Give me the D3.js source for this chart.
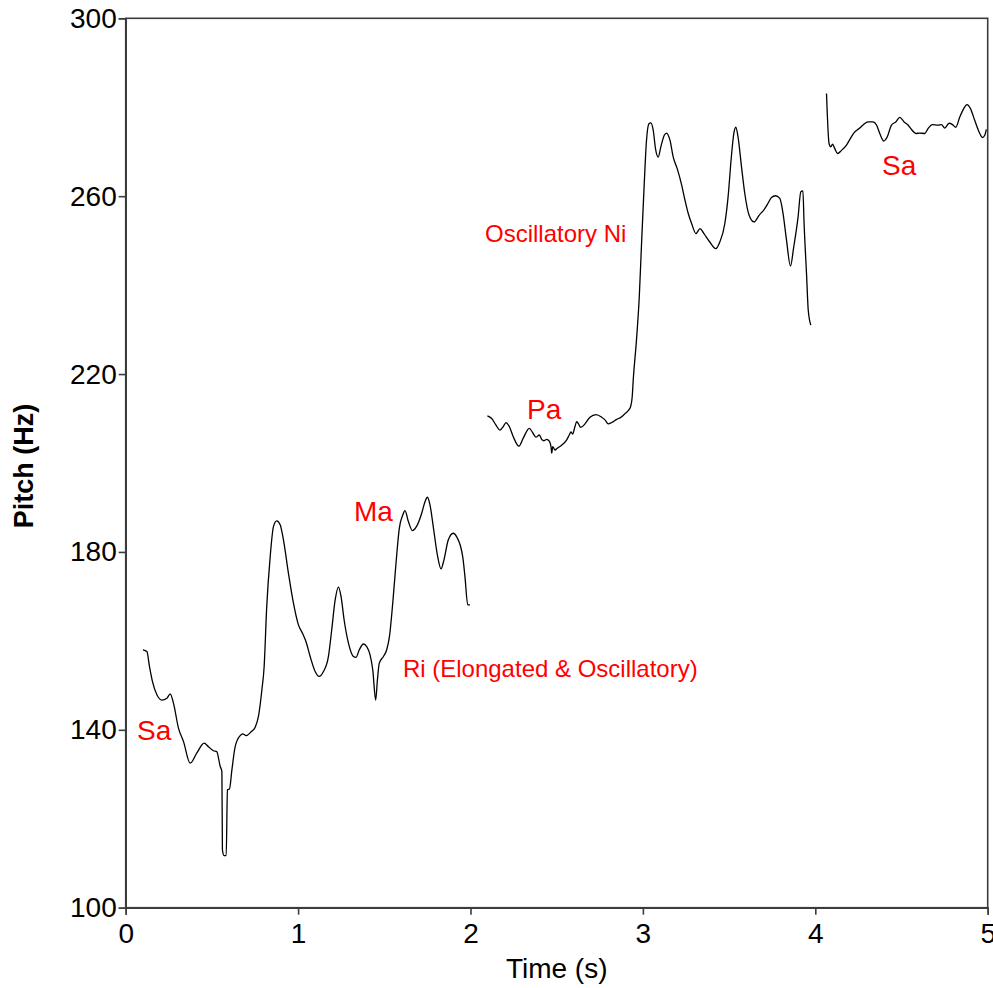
<!DOCTYPE html>
<html>
<head>
<meta charset="utf-8">
<script src="https://cdn.jsdelivr.net/npm/d3@7"></script>
<style>
  html, body { margin: 0; padding: 0; background: #fff; }
  svg { display: block; }
  text { font-family: "Liberation Sans", Arial, Helvetica, sans-serif; }
</style>
</head>
<body>
<svg id="chart" width="993" height="988"></svg>
<script>
// Pitch contour, one array of [time (s), pitch (Hz)] per voiced stretch
const segSaRiMa = [
  [0.100,158.0],[0.123,157.6],[0.138,154.2],[0.155,150.9],[0.181,147.9],[0.210,146.7],
  [0.239,147.1],[0.258,148.1],[0.277,146.0],[0.306,140.4],[0.335,137.4],[0.374,132.5],
  [0.413,134.8],[0.455,137.0],[0.480,136.2],[0.509,135.3],[0.528,135.1],[0.548,131.8],
  [0.558,130.6],[0.561,113.0],[0.571,111.7],[0.583,111.7],[0.590,126.5],[0.602,126.7],
  [0.616,131.0],[0.635,136.2],[0.664,138.7],[0.679,139.1],[0.699,138.7],[0.726,139.5],
  [0.751,140.6],[0.770,143.0],[0.790,149.0],[0.803,154.2],[0.818,167.7],[0.838,178.9],
  [0.857,185.7],[0.876,187.0],[0.896,186.1],[0.915,182.7],[0.944,175.2],[0.973,168.5],
  [1.002,163.6],[1.027,161.6],[1.046,159.8],[1.070,156.5],[1.099,153.1],[1.122,152.0],
  [1.147,153.1],[1.176,156.5],[1.195,162.5],[1.215,169.2],[1.234,172.1],[1.249,170.0],
  [1.267,164.7],[1.292,159.5],[1.321,156.5],[1.336,156.3],[1.355,158.0],[1.379,159.3],
  [1.398,158.7],[1.417,156.9],[1.433,153.5],[1.450,146.7],[1.460,151.2],[1.471,155.0],
  [1.495,156.5],[1.514,158.0],[1.530,161.0],[1.549,168.5],[1.568,177.5],[1.587,185.3],
  [1.607,188.3],[1.620,189.3],[1.640,186.8],[1.663,184.8],[1.688,185.8],[1.717,188.7],
  [1.736,191.3],[1.750,192.3],[1.765,190.6],[1.784,185.7],[1.808,179.3],[1.829,176.2],
  [1.846,178.2],[1.871,182.7],[1.900,184.2],[1.920,183.4],[1.955,178.9],[1.968,174.4],
  [1.984,168.1],[1.997,168.1]
];

const segPaNi = [
  [2.098,210.6],[2.123,210.0],[2.148,208.5],[2.171,207.4],[2.190,208.2],[2.206,209.1],
  [2.225,208.2],[2.248,205.9],[2.281,203.8],[2.306,205.6],[2.341,207.8],[2.361,206.8],
  [2.380,205.8],[2.399,206.3],[2.413,205.3],[2.426,205.0],[2.442,205.3],[2.457,204.9],
  [2.467,203.7],[2.471,202.2],[2.477,203.7],[2.490,202.9],[2.503,203.3],[2.529,204.0],
  [2.558,205.2],[2.573,206.3],[2.583,207.0],[2.592,206.5],[2.606,208.2],[2.616,209.3],
  [2.625,208.9],[2.639,208.0],[2.664,208.8],[2.693,210.3],[2.728,210.9],[2.761,210.3],
  [2.780,209.7],[2.799,208.8],[2.819,209.1],[2.848,209.8],[2.877,210.4],[2.896,211.1],
  [2.915,211.8],[2.929,212.7],[2.938,214.9],[2.944,218.7],[2.963,227.8],[2.979,237.4],
  [2.993,250.1],[3.006,261.3],[3.021,272.6],[3.035,276.3],[3.046,276.5],[3.060,274.8],
  [3.073,270.7],[3.089,268.8],[3.104,271.1],[3.124,273.7],[3.137,274.2],[3.157,272.6],
  [3.176,268.8],[3.199,266.2],[3.225,262.5],[3.244,259.1],[3.263,256.1],[3.283,253.8],
  [3.308,251.6],[3.331,252.7],[3.354,251.6],[3.388,249.7],[3.423,248.2],[3.446,249.7],
  [3.475,253.8],[3.494,259.8],[3.513,268.8],[3.527,274.0],[3.539,275.5],[3.552,273.3],
  [3.572,266.6],[3.591,260.6],[3.616,255.7],[3.645,254.2],[3.674,255.7],[3.703,257.0],
  [3.723,258.2],[3.746,259.7],[3.769,260.1],[3.794,259.5],[3.813,256.1],[3.833,250.1],
  [3.856,244.3],[3.875,248.6],[3.900,255.3],[3.916,261.0],[3.928,261.2],[3.935,253.8],
  [3.949,242.6],[3.959,234.4],[3.974,231.0]
];

const segSaHigh = [
  [4.065,283.1],[4.080,271.8],[4.090,271.1],[4.100,271.7],[4.113,270.7],[4.129,269.6],
  [4.152,270.3],[4.181,271.5],[4.204,273.0],[4.223,274.2],[4.254,275.2],[4.277,276.0],
  [4.306,276.7],[4.335,276.7],[4.355,276.0],[4.374,274.1],[4.397,272.4],[4.417,273.3],
  [4.442,276.0],[4.467,276.7],[4.490,277.7],[4.515,276.7],[4.538,276.0],[4.558,275.0],
  [4.583,274.1],[4.606,274.2],[4.635,274.1],[4.654,275.2],[4.679,276.1],[4.712,276.0],
  [4.732,276.1],[4.751,275.3],[4.776,276.4],[4.796,276.1],[4.815,275.5],[4.838,277.8],
  [4.861,279.7],[4.880,280.6],[4.900,279.7],[4.925,277.0],[4.954,274.1],[4.969,273.2],
  [4.983,273.7],[4.992,275.0]
];

const xTicks = [0, 1, 2, 3, 4, 5];
const yTicks = [100, 140, 180, 220, 260, 300];

// Note names and ornament descriptions, anchored at [time, pitch]
const noteLabels = ["Sa", "Ma", "Pa", "Sa"];
const noteAnchors = [[0.066, 137.7], [1.324, 187.0], [2.328, 209.9], [4.387, 264.8]];
const ornamentLabels = ["Oscillatory Ni", "Ri (Elongated & Oscillatory)"];
const ornamentAnchors = [[2.084, 249.7], [1.608, 151.9]];

const svg = d3.select("#chart");
const plotLeft = 125.7, plotRight = 987.7, plotTop = 18.3, plotBottom = 907.7;

const x = d3.scaleLinear().domain([0, 5]).range([plotLeft, plotRight]);
const y = d3.scaleLinear().domain([100, 300]).range([plotBottom, plotTop]);

const axisColor = "#3c3c3c";

// Frame
svg.append("rect")
  .attr("x", plotLeft).attr("y", plotTop)
  .attr("width", plotRight - plotLeft).attr("height", plotBottom - plotTop)
  .attr("fill", "none").attr("stroke", axisColor).attr("stroke-width", 1.6);

// Axes
const xAxis = svg.append("g")
  .attr("transform", `translate(0,${plotBottom})`)
  .call(d3.axisBottom(x).tickValues(xTicks).tickFormat(d3.format("d")).tickSizeOuter(0).tickSize(7).tickPadding(8));
const yAxis = svg.append("g")
  .attr("transform", `translate(${plotLeft},0)`)
  .call(d3.axisLeft(y).tickValues(yTicks).tickFormat(d3.format("d")).tickSizeOuter(0).tickSize(7).tickPadding(2));

[xAxis, yAxis].forEach(g => {
  g.select(".domain").attr("stroke", axisColor).attr("stroke-width", 1.6);
  g.selectAll(".tick line").attr("stroke", axisColor).attr("stroke-width", 1.6);
  g.selectAll(".tick text")
    .attr("fill", "#000")
    .style("font-family", '"Liberation Sans", Arial, sans-serif')
    .style("font-size", "28px");
});

// Axis titles
svg.append("text")
  .attr("x", (plotLeft + plotRight) / 2).attr("y", 978)
  .attr("text-anchor", "middle")
  .style("font-size", "28px")
  .text("Time (s)");

svg.append("text")
  .attr("transform", `translate(33,466) rotate(-90)`)
  .attr("text-anchor", "middle")
  .style("font-size", "27px")
  .style("font-weight", "bold")
  .text("Pitch (Hz)");

// Pitch contour
const line = d3.line()
  .x(d => x(d[0]))
  .y(d => y(d[1]))
  .curve(d3.curveMonotoneX);

svg.append("g")
  .selectAll("path")
  .data([segSaRiMa, segPaNi, segSaHigh])
  .join("path")
  .attr("d", line)
  .attr("fill", "none")
  .attr("stroke", "#000")
  .attr("stroke-width", 1.3)
  .attr("stroke-linejoin", "round");

// Annotations
svg.append("g")
  .selectAll("text")
  .data(noteLabels.map((t, i) => ({ t, p: noteAnchors[i] })))
  .join("text")
  .attr("x", d => x(d.p[0]))
  .attr("y", d => y(d.p[1]))
  .attr("fill", "#ff0000")
  .style("font-size", "28px")
  .text(d => d.t);

svg.append("g")
  .selectAll("text")
  .data(ornamentLabels.map((t, i) => ({ t, p: ornamentAnchors[i] })))
  .join("text")
  .attr("x", d => x(d.p[0]))
  .attr("y", d => y(d.p[1]))
  .attr("fill", "#ff0000")
  .style("font-size", "24px")
  .text(d => d.t);
</script>
</body>
</html>
